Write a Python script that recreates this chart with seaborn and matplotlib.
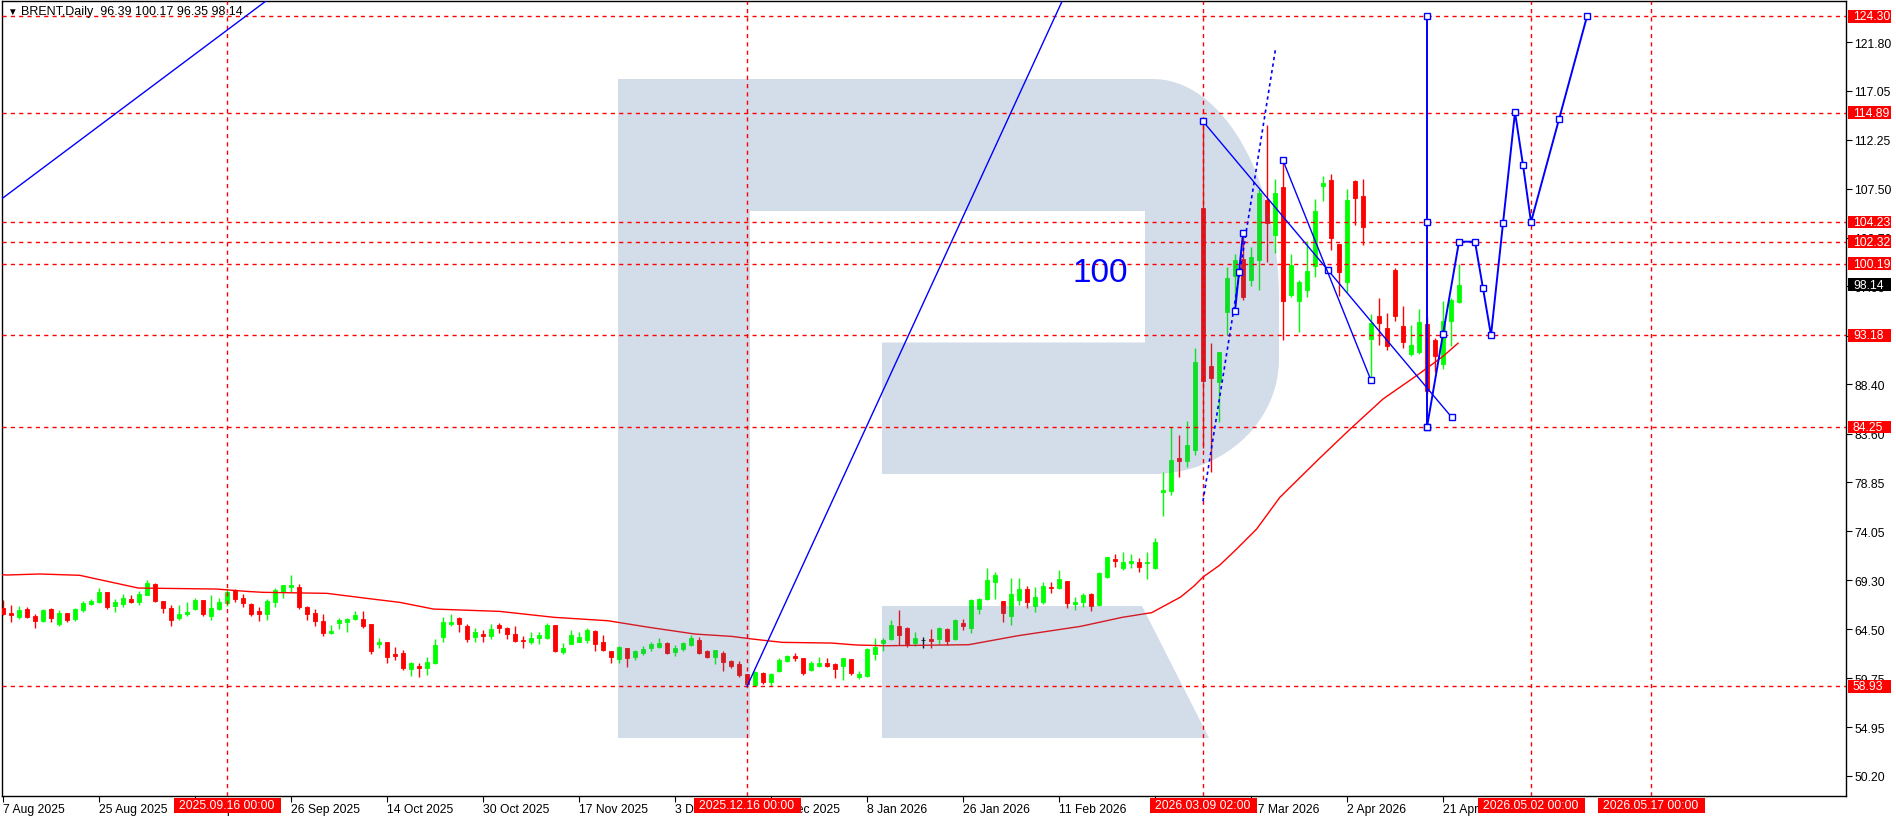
import numpy as np
import pandas as pd
import matplotlib
matplotlib.use('Agg')
import matplotlib.pyplot as plt
import matplotlib.transforms as mtransforms
from matplotlib.patches import Polygon, Rectangle
import seaborn as sns

# ── Daily candles, 7 Aug 2025 .. 23 Apr 2026 (bar index = position) ──
opens = [66.58, 66.09, 65.73, 66.48, 65.80, 65.34, 66.48, 65.02, 66.09, 65.50,
         66.38, 67.00, 67.20, 68.14, 66.81, 67.00, 67.46, 67.16, 67.88, 68.92,
         67.26, 66.58, 65.60, 65.99, 66.48, 67.36, 65.80, 66.48, 67.07, 68.33,
         67.55, 66.97, 66.29, 65.99, 67.16, 68.14, 68.66, 68.63, 66.68, 66.09,
         65.31, 64.17, 65.15, 65.24, 65.50, 65.50, 65.02, 63.07, 63.26, 62.09,
         62.19, 60.66, 60.92, 60.72, 61.21, 63.78, 65.05, 65.60, 64.82, 63.78,
         64.04, 63.88, 64.92, 64.63, 64.04, 63.49, 63.29, 63.68, 63.65, 64.92,
         62.29, 63.10, 63.29, 63.49, 64.33, 63.26, 62.38, 61.64, 62.68, 61.83,
         62.22, 62.68, 62.81, 63.16, 62.32, 62.55, 62.97, 63.46, 62.38, 61.80,
         62.19, 61.41, 61.11, 60.14, 59.10, 60.24, 59.36, 60.43, 61.41, 61.90,
         61.70, 60.53, 60.92, 61.21, 61.11, 60.92, 61.60, 59.85, 59.94, 62.09,
         63.16, 63.55, 64.82, 64.63, 63.16, 63.46, 63.55, 63.55, 64.53, 63.55,
         65.12, 64.63, 66.48, 67.46, 69.11, 67.26, 65.80, 67.36, 68.43, 66.77,
         67.16, 68.63, 68.53, 69.21, 67.00, 67.16, 67.94, 66.87, 69.60, 71.40,
         70.45, 70.93, 71.03, 70.93, 70.51, 77.93, 78.02, 81.18, 80.95, 82.02,
         105.60, 90.15, 88.66, 95.42, 99.00, 100.60, 98.62, 100.56, 106.38, 103.00,
         107.69, 97.15, 96.56, 97.64, 99.98, 107.78, 108.34, 102.09, 98.35, 108.24,
         106.74, 92.82, 95.04, 93.87, 99.52, 94.06, 91.36, 91.59, 94.29, 92.72,
         90.38, 94.61, 96.39]
highs = [67.36, 66.87, 66.77, 66.64, 65.99, 66.48, 66.58, 66.38, 66.09, 66.58,
         67.26, 67.46, 68.53, 68.14, 67.46, 67.94, 67.85, 68.24, 69.31, 69.02,
         67.26, 66.87, 66.87, 67.16, 67.55, 67.36, 67.85, 67.55, 68.43, 68.43,
         67.94, 67.07, 66.68, 67.46, 68.53, 68.82, 69.80, 68.92, 66.77, 66.48,
         65.99, 64.92, 65.60, 65.64, 66.29, 66.29, 65.02, 63.65, 63.26, 62.77,
         62.48, 61.31, 61.21, 61.80, 63.55, 65.70, 65.99, 65.70, 65.02, 64.63,
         64.46, 65.02, 65.15, 64.72, 64.79, 63.88, 64.20, 64.20, 65.12, 64.92,
         63.16, 64.40, 64.20, 64.66, 64.43, 63.94, 62.38, 62.84, 62.68, 62.48,
         62.90, 63.26, 63.65, 63.26, 63.00, 63.29, 63.91, 63.72, 62.48, 62.48,
         62.38, 61.50, 61.41, 60.14, 60.43, 60.33, 60.24, 61.70, 61.99, 62.19,
         61.70, 61.41, 61.80, 61.70, 61.21, 61.70, 61.60, 60.43, 62.68, 63.65,
         63.65, 65.41, 66.38, 64.72, 64.24, 63.75, 64.53, 64.72, 64.63, 65.50,
         65.50, 67.46, 67.55, 70.48, 70.09, 67.26, 69.51, 69.51, 68.72, 68.63,
         69.11, 69.11, 70.29, 69.21, 67.65, 68.04, 68.04, 70.09, 71.55, 71.85,
         72.01, 71.85, 71.45, 72.07, 73.40, 79.81, 84.20, 83.45, 84.79, 91.94,
         114.06, 92.43, 91.60, 99.86, 101.10, 102.90, 101.76, 107.50, 113.73, 108.43,
         110.25, 101.12, 98.58, 102.42, 106.48, 108.69, 108.92, 102.09, 107.46, 108.34,
         108.43, 95.26, 96.82, 95.36, 99.72, 96.01, 94.19, 95.75, 95.00, 92.89,
         96.50, 96.80, 100.17]
lows = [65.90, 65.18, 65.50, 65.64, 64.66, 65.18, 65.24, 64.85, 65.18, 65.34,
        66.22, 66.87, 67.07, 66.48, 66.22, 66.71, 67.07, 66.87, 67.85, 67.16,
        66.09, 64.85, 65.41, 65.83, 66.38, 65.83, 65.41, 66.42, 66.81, 67.20,
        66.71, 65.83, 65.31, 65.41, 66.71, 67.55, 68.11, 66.48, 65.44, 64.85,
        63.85, 64.07, 64.53, 64.27, 65.38, 64.66, 62.09, 62.68, 61.21, 61.54,
        60.53, 59.94, 59.85, 60.07, 61.11, 63.26, 64.85, 64.24, 63.26, 63.26,
        63.29, 63.59, 64.17, 63.55, 63.29, 62.68, 63.07, 63.07, 63.55, 62.29,
        62.12, 63.03, 63.23, 63.13, 62.38, 62.42, 61.21, 61.21, 60.82, 61.54,
        62.03, 62.38, 62.68, 62.09, 61.90, 62.38, 62.84, 62.09, 61.70, 61.11,
        60.43, 60.72, 59.85, 58.93, 58.97, 59.16, 58.97, 60.37, 61.31, 61.41,
        60.04, 60.43, 60.82, 60.82, 59.75, 59.55, 60.04, 59.62, 59.85, 61.50,
        62.38, 63.46, 62.97, 62.77, 62.87, 62.68, 62.68, 63.07, 62.97, 63.46,
        64.43, 64.14, 65.99, 67.36, 67.46, 65.21, 64.92, 66.87, 66.58, 66.19,
        66.97, 68.04, 68.43, 66.58, 66.38, 66.68, 66.29, 66.77, 69.51, 70.61,
        70.32, 70.45, 70.12, 69.41, 70.38, 75.52, 77.63, 79.32, 80.30, 81.50,
        82.20, 79.81, 84.76, 93.21, 96.00, 96.66, 98.00, 97.63, 100.36, 101.25,
        92.76, 96.89, 93.54, 96.95, 98.91, 106.32, 101.54, 97.05, 97.38, 103.98,
        102.03, 89.08, 92.27, 91.78, 94.61, 91.91, 91.20, 91.36, 87.46, 89.57,
        89.90, 92.17, 96.35]
closes = [65.99, 65.93, 66.38, 65.73, 65.34, 66.38, 65.64, 66.09, 65.44, 66.48,
          67.07, 67.26, 68.11, 66.68, 67.16, 67.55, 67.16, 67.94, 69.02, 67.26,
          66.58, 65.44, 65.99, 66.19, 67.36, 65.99, 66.58, 67.16, 68.14, 67.46,
          67.07, 65.99, 65.99, 67.26, 68.33, 68.82, 68.82, 66.68, 65.99, 65.31,
          64.17, 64.33, 65.41, 65.50, 65.90, 64.82, 62.42, 63.26, 61.80, 61.90,
          60.72, 61.21, 60.72, 61.31, 62.97, 65.21, 65.21, 65.02, 63.55, 64.24,
          63.88, 64.53, 64.66, 64.07, 63.39, 63.33, 63.65, 63.94, 64.95, 62.38,
          62.68, 63.91, 63.75, 64.43, 63.10, 62.51, 61.83, 62.77, 61.73, 62.38,
          62.58, 63.07, 63.13, 62.22, 62.68, 63.13, 63.65, 62.19, 61.80, 62.48,
          61.34, 60.92, 60.04, 59.20, 60.33, 59.33, 60.14, 61.50, 61.90, 61.70,
          60.24, 61.21, 61.21, 60.92, 60.63, 61.70, 60.24, 60.14, 62.58, 62.81,
          63.46, 64.92, 63.94, 63.07, 63.65, 63.46, 63.39, 64.63, 63.36, 65.41,
          64.82, 67.36, 67.49, 69.31, 69.80, 66.09, 67.94, 68.43, 67.16, 67.65,
          68.72, 68.53, 69.41, 67.07, 67.16, 67.88, 66.77, 69.99, 71.55, 71.20,
          71.10, 71.13, 70.61, 71.03, 72.98, 78.12, 81.02, 80.95, 82.48, 90.61,
          88.69, 88.98, 91.55, 98.77, 100.53, 96.95, 100.79, 107.06, 104.10, 107.07,
          96.56, 100.04, 98.35, 99.43, 105.31, 108.01, 102.71, 99.33, 106.38, 106.55,
          103.78, 94.35, 94.35, 92.11, 95.07, 92.50, 92.24, 94.45, 87.78, 91.20,
          94.55, 96.63, 98.14]

# moving average
ma_x = [-0.4, 0.5, 4.6, 9.6, 11.7, 14.6, 16.9, 26.7, 30.5, 32.5, 40.5, 45.5, 49.6,
        53.8, 62.1, 68.9, 75.6, 80.8, 86.5, 91.1, 93.7, 97.4, 103.6, 106.7, 110.3,
        120.7, 126.9, 134.7, 139.9, 143.6, 147.2, 148.9, 150.0, 152.1, 154.2, 156.7,
        159.6, 164.6, 168.4, 172.5, 176.7, 180.0, 181.9]
ma_y = [69.84, 69.80, 69.90, 69.77, 69.41, 68.92, 68.53, 68.43, 68.20, 68.11, 68.01,
        67.52, 67.13, 66.48, 66.25, 65.67, 65.34, 64.69, 64.04, 63.81, 63.55, 63.23,
        63.16, 62.97, 62.90, 63.00, 63.88, 64.79, 65.67, 66.13, 67.65, 68.74, 69.60,
        70.77, 72.33, 74.28, 77.37, 81.21, 84.04, 86.97, 89.25, 91.13, 92.43]

# x axis
tick_idx = [0, 12, 24, 36, 48, 60, 72, 84, 96, 108, 120, 132, 144, 156, 168, 180]
tick_labels = ['7 Aug 2025', '25 Aug 2025', '10 Sep 2025', '26 Sep 2025', '14 Oct 2025',
               '30 Oct 2025', '17 Nov 2025', '3 Dec 2025', '19 Dec 2025', '8 Jan 2026',
               '26 Jan 2026', '11 Feb 2026', '27 Feb 2026', '17 Mar 2026', '2 Apr 2026',
               '21 Apr 2026']
yticks = [121.80, 117.05, 112.25, 107.50, 102.70, 97.95, 93.15, 88.40, 83.60,
          78.85, 74.05, 69.30, 64.50, 59.75, 54.95, 50.20]

# horizontal levels / vertical time markers
level_prices = [124.30, 114.89, 104.23, 102.32, 100.19, 93.18, 84.25, 58.93]
last_price = 98.14
vline_idx = [28, 93, 150, 191, 206]
vline_labels = ['2025.09.16 00:00', '2025.12.16 00:00', '2026.03.09 02:00',
                '2026.05.02 00:00', '2026.05.17 00:00']

# blue drawings
old_trend_x, old_trend_y = [-0.125, 33.2], [106.52, 125.99]
up_trend_x, up_trend_y = [93, 132.4], [58.93, 125.8]
dotted_x, dotted_y = [150, 159.1], [77.0, 121.3]
line_a_x, line_a_y = [150, 165.6, 181.1], [114.06, 99.56, 85.18]
line_b_x, line_b_y = [160, 171], [110.25, 88.79]
short_x, short_y = [154, 154.5, 155], [95.52, 99.33, 103.13]
vert_x, vert_y = [178, 178, 178], [124.30, 104.23, 84.25]
proj_x = [178, 180, 182, 184, 185, 186, 187.5, 189, 190, 191, 194.5, 198]
proj_y = [84.25, 93.30, 102.32, 102.32, 97.77, 93.18, 104.11, 114.95, 109.80, 104.23,
          114.26, 124.30]

# ── Figure ─────────────────────────────────────────────────
sns.set_style('white')
plt.rcParams['font.family'] = ['Liberation Sans', 'DejaVu Sans']

W, H = 1896, 820
fig = plt.figure(figsize=(W / 100, H / 100), dpi=100)
ax = fig.add_axes([2 / W, 23 / H, 1844 / W, 795 / H])
ax.set_xlim(-0.125, 230.375)
ax.set_ylim(48.24, 125.8)

GREEN, RED, BLUE = '#00ff00', '#ff0000', '#0000ff'

# candles
df = pd.DataFrame({'open': opens, 'high': highs, 'low': lows, 'close': closes})
df['idx'] = np.arange(len(df))
colors = np.where(df['close'] > df['open'], GREEN,
                  np.where(df['close'] < df['open'], RED, '#000000'))
ax.vlines(df['idx'], df['low'], df['high'], colors=colors, lw=1, zorder=2)
body_lo = np.minimum(df['open'], df['close'])
body_h = np.maximum((df['close'] - df['open']).abs(), 0.03)
ax.bar(df['idx'], body_h, bottom=body_lo, width=0.58, color=colors,
       edgecolor=colors, lw=0.6, zorder=3)

# moving average
sns.lineplot(x=ma_x, y=ma_y, ax=ax, color=RED, lw=1, zorder=3)

# watermark logo (pixel coordinates of the picture)
def fig_xy(pts):
    return [(x / W, 1 - y / H) for x, y in pts]

t = np.linspace(np.pi / 2, 0, 30)
top_arc = [(1153 + 126 * np.cos(a), 300 - 220 * np.sin(a)) for a in t]
t2 = np.linspace(0, np.pi / 2, 30)
bot_arc = [(1153 + 126 * np.cos(a), 360 + 115 * np.sin(a)) for a in t2]
bowl = ([(618, 80)] + top_arc + bot_arc +
        [(882, 475), (882, 343.5), (1145, 343.5), (1145, 212), (750, 212),
         (750, 739), (618, 739)])
leg = [(882, 607), (1142, 607), (1209, 739), (882, 739)]
for shape in (bowl, leg):
    ax.add_patch(Polygon(fig_xy(shape), closed=True, transform=fig.transFigure,
                         fc=(71 / 255, 113 / 255, 163 / 255), ec='none',
                         alpha=0.24, zorder=4))

# red dashed levels
dash = (0, (3, 3))
for p in level_prices:
    ax.axhline(p, color=RED, ls=dash, lw=1, zorder=4.5)
for xi in vline_idx:
    ax.axvline(xi, color=RED, ls=dash, lw=1, zorder=4.5)

# blue drawings
ax.plot(old_trend_x, old_trend_y, color=BLUE, lw=1, zorder=5)
ax.plot(up_trend_x, up_trend_y, color=BLUE, lw=1, zorder=5)
ax.plot(dotted_x, dotted_y, color=BLUE, lw=1.2, ls=(0, (2, 2)), zorder=5)
mk = dict(marker='s', ms=4.5, mfc='white', mec=BLUE, mew=1)
ax.plot(line_a_x, line_a_y, color=BLUE, lw=1, zorder=5, **mk)
ax.plot(line_b_x, line_b_y, color=BLUE, lw=1, zorder=5, **mk)
ax.plot(short_x, short_y, color=BLUE, lw=1.4, zorder=5, **mk)
ax.plot(vert_x, vert_y, color=BLUE, lw=1.4, zorder=5, **mk)
ax.plot(proj_x, proj_y, color=BLUE, lw=1.4, zorder=5, **mk)
ax.text(137.1, 98.48, '100', color=BLUE, fontsize=24, ha='center', va='baseline', zorder=6)

# axes, ticks
for s in ax.spines.values():
    s.set_color('black')
    s.set_linewidth(1)
ax.yaxis.tick_right()
ax.set_yticks(yticks)
ax.set_yticklabels([f'{v:.2f}' for v in yticks])
ax.set_xticks(tick_idx)
ax.set_xticklabels(tick_labels, ha='left')
ax.tick_params(axis='y', which='both', direction='out', length=4, pad=2,
               labelsize=8.7, colors='black', right=True, left=False)
ax.tick_params(axis='x', direction='out', length=4, pad=1, labelsize=8.7,
               colors='black', bottom=True)

# price boxes on the right
ty = mtransforms.blended_transform_factory(ax.transAxes, ax.transData)
bw = 43 / 1844
bh = 12.7 / 10.25
for p, fc in [(p, RED) for p in level_prices] + [(last_price, 'black')]:
    ax.add_patch(Rectangle((1846 / 1844, p - bh / 2), bw, bh, transform=ty, fc=fc,
                           ec='none', clip_on=False, zorder=10))
    ax.text(1851 / 1844, p, f'{p:.2f}', transform=ty, ha='left', va='center',
            color='white', fontsize=8.7, clip_on=False, zorder=11)

# time boxes at the bottom
tx = mtransforms.blended_transform_factory(ax.transData, ax.transAxes)
for xi, lab in zip(vline_idx, vline_labels):
    ax.add_patch(Rectangle((xi - 107 / 16, -17 / 795), 107 / 8, 15 / 795, transform=tx,
                           fc=RED, ec='none', clip_on=False, zorder=10))
    ax.text(xi, -9.5 / 795, lab, transform=tx, ha='center', va='center',
            color='white', fontsize=8.7, clip_on=False, zorder=11)

# header
fig.text(7 / W, 1 - 12 / H, '\u25bc', fontsize=7, va='center', color='black')
fig.text(21 / W, 1 - 12 / H, 'BRENT,Daily  96.39 100.17 96.35 98.14',
         fontsize=9, va='center', color='black')

fig.savefig('out.png', dpi=100)
